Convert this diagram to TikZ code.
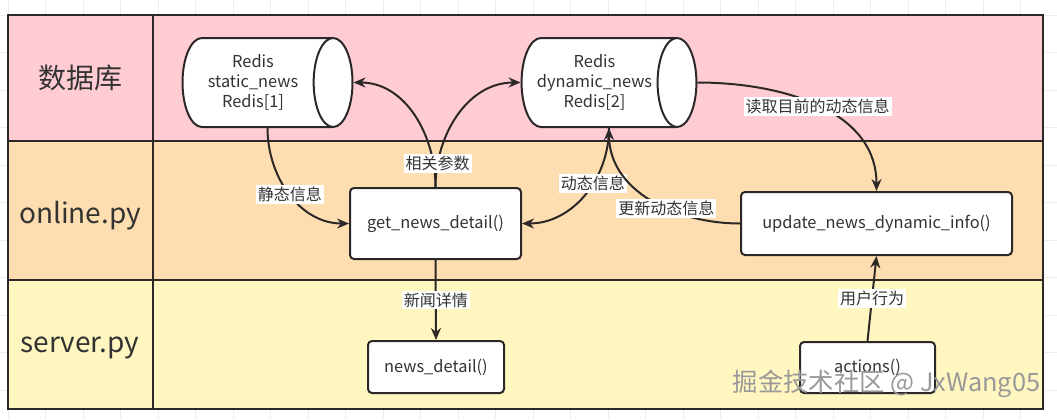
\documentclass[tikz,border=0pt]{standalone}
\usepackage{fontspec}
\setmainfont{Noto Sans CJK SC}
\usetikzlibrary{arrows.meta,shapes.geometric}
\definecolor{dbPink}{RGB}{255,204,212}
\definecolor{onOrange}{RGB}{254,222,176}
\definecolor{svYellow}{RGB}{255,246,192}
\definecolor{lineGray}{RGB}{45,40,40}
\definecolor{txtGray}{RGB}{51,51,51}

\begin{document}
\begin{tikzpicture}[x=0.75pt,y=-0.75pt,
  lane/.style={draw=lineGray, line width=1.5pt},
  rowlab/.style={font=\fontsize{21}{24}\selectfont, text=txtGray},
  fn/.style={draw=lineGray, line width=1.5pt, rounded corners=3pt, fill=white, font=\fontsize{12.3}{15}\selectfont, text=txtGray},
  db/.style={cylinder, anchor=shape center, draw=lineGray, line width=1.5pt, fill=white, aspect=0.6, minimum height=127.5pt, minimum width=66.75pt, align=center, font=\fontsize{12.3}{15}\selectfont, text=txtGray},
  arr/.style={-{Stealth[length=9pt,width=7.5pt]}, line width=1.5pt, draw=lineGray},
  lab/.style={fill=white, inner sep=1.5pt, font=\fontsize{12}{14}\selectfont, text=txtGray}
]
  \useasboundingbox (0,0) rectangle (1057,419);
  % faint page grid
  \foreach \gx in {8,45.5,...,1057} \draw[black!7] (\gx,0) -- (\gx,419);
  \foreach \gy in {15,52.5,...,419} \draw[black!7] (0,\gy) -- (1057,\gy);

  % swim lanes
  \fill[dbPink] (8,15) rectangle (1043,141);
  \fill[onOrange] (8,141) rectangle (1043,280);
  \fill[svYellow] (8,280) rectangle (1043,409);
  \draw[lane] (8,15) rectangle (1043,409);
  \draw[lane] (8,141) -- (1043,141);
  \draw[lane] (8,280) -- (1043,280);
  \draw[lane] (153,15) -- (153,409);

  \node[rowlab] (dbLab) at (80,78) {数据库};
  \node[rowlab] (onLab) at (80,216) {online.py};
  \node[rowlab] (svLab) at (80,348) {server.py};

  % stores
  \node[db] (statNews) at (267.5,82.5) {Redis\\static\_news\\Redis[1]};
  \node[db] (dynNews) at (609,82.5) {Redis\\dynamic\_news\\Redis[2]};

  % functions
  \node[fn, minimum width=128.25pt, minimum height=53.25pt] (getNews) at (435.5,223.5) {get\_news\_detail()};
  \node[fn, minimum width=203.25pt, minimum height=47.25pt] (updNews) at (876.5,223.5) {update\_news\_dynamic\_info()};
  \node[fn, minimum width=102pt, minimum height=39pt] (newsDet) at (436,367) {news\_detail()};
  \node[fn, minimum width=101.25pt, minimum height=38.25pt] (actions) at (867.5,367.5) {actions()};

  % flows
  \draw[arr] (statNews.shape center |- statNews.south) to[out=-90,in=180] node[lab,pos=0.5] {静态信息} (getNews.west);
  \draw[arr] (getNews.north) to[out=90,in=0] (statNews.east);
  \draw[arr] (getNews.north) to[out=90,in=180] node[lab,pos=0.15] {相关参数} (dynNews.west);
  \draw[arr] (dynNews.shape center |- dynNews.south) to[out=-90,in=0] node[lab,pos=0.4] {动态信息} (getNews.east);
  \draw[arr] (updNews.west) to[out=180,in=-90] node[lab,pos=0.4] {更新动态信息} (dynNews.shape center |- dynNews.south);
  \draw[arr] (dynNews.east) to[out=0,in=90] node[lab,pos=0.5] {读取目前的动态信息} (updNews.north);
  \draw[arr] (getNews.south) -- node[lab] {新闻详情} (newsDet.north);
  \draw[arr] (actions.north) -- node[lab] {用户行为} (updNews.south);

  \node[anchor=east, font=\fontsize{19}{21}\selectfont, text=black!40] (wmark) at (1045,384) {掘金技术社区 @ JxWang05};
\end{tikzpicture}
\end{document}
